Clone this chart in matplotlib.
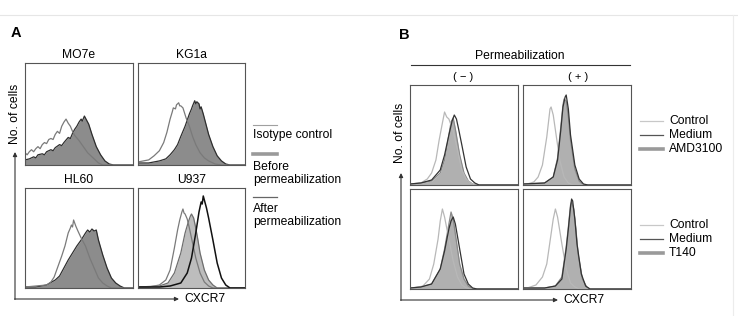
import matplotlib
matplotlib.use("Agg")
import matplotlib.pyplot as plt

plt.rcParams['font.family'] = ['Liberation Sans', 'DejaVu Sans']

W, H = 738, 316

# histogram curves: (channel, % of box height)
# panel A
mo7e_iso = [(0,12),(2,10),(4,13),(6,15),(8,13),(10,16),(12,18),(14,16),(16,20),(18,22),(20,21),(22,25),(24,26),(26,25),(28,30),(30,33),(32,31),(34,38),(36,42),(38,45),(40,41),(42,38),(44,33),(46,29),(50,24),(54,18),(58,12),(62,8),(65,5),(68,2),(72,0),(100,0)]
mo7e_fill = [(0,5),(4,6),(8,8),(10,7),(12,10),(16,11),(18,10),(20,13),(24,15),(26,14),(28,17),(32,20),(34,19),(36,22),(40,27),(42,26),(44,31),(46,35),(48,38),(50,42),(52,45),(53,43),(55,48),(57,44),(59,40),(62,30),(66,18),(70,10),(74,4),(78,1),(82,0),(100,0)]
kg1a_iso = [(0,3),(5,4),(10,5),(15,9),(20,14),(24,22),(27,32),(30,45),(32,52),(33,56),(35,55),(36,59),(38,61),(39,58),(40,58),(42,56),(45,46),(48,38),(51,28),(54,20),(58,12),(62,7),(66,4),(72,1),(78,0),(100,0)]
kg1a_fill = [(0,2),(10,2),(20,4),(26,6),(30,10),(34,15),(37,20),(40,28),(44,38),(48,50),(50,55),(51,58),(53,63),(54,60),(55,62),(57,60),(58,55),(59,57),(61,50),(63,42),(66,30),(70,18),(74,9),(78,4),(82,1),(86,0),(100,0)]
hl60_iso = [(0,1),(10,2),(20,3),(24,6),(27,11),(30,20),(34,32),(37,42),(40,55),(42,60),(43,63),(44,61),(45,68),(47,62),(49,57),(52,50),(56,42),(60,30),(64,20),(68,10),(72,5),(76,2),(80,0),(100,0)]
hl60_fill = [(0,1),(10,1),(20,3),(28,8),(32,12),(36,20),(40,28),(44,35),(48,42),(52,48),(56,55),(58,58),(60,56),(62,59),(64,57),(66,58),(68,48),(72,33),(76,20),(80,10),(84,5),(88,2),(92,0),(100,0)]
u937_iso = [(0,1),(10,1),(20,3),(26,8),(30,18),(34,40),(37,58),(39,68),(41,76),(42,79),(43,75),(44,74),(46,69),(48,60),(50,50),(54,30),(58,15),(62,6),(66,2),(70,0),(100,0)]
u937_before = [(0,1),(20,2),(28,5),(34,15),(40,35),(44,55),(47,66),(49,72),(50,74),(52,70),(54,60),(56,48),(58,35),(62,18),(66,8),(70,3),(74,0),(100,0)]
u937_after = [(0,1),(20,1),(30,2),(40,5),(46,15),(50,30),(54,55),(57,76),(59,86),(60,84),(61,92),(62,88),(64,80),(66,70),(70,48),(74,25),(78,10),(82,3),(86,0),(100,0)]

# panel B
neg_amd_ctrl = [(0,1),(6,1),(10,2),(16,6),(20,12),(24,25),(27,45),(30,62),(32,73),(34,68),(36,66),(38,60),(40,54),(44,35),(48,15),(52,6),(56,2),(60,0),(100,0)]
neg_amd_med = [(0,1),(10,2),(20,5),(28,15),(32,30),(36,50),(39,64),(41,70),(43,66),(45,56),(48,40),(52,18),(56,6),(60,2),(64,0),(100,0)]
neg_amd_drug = [(0,1),(10,2),(20,4),(28,12),(32,25),(36,50),(38,63),(40,67),(42,56),(46,30),(50,12),(54,4),(58,1),(62,0),(100,0)]
pos_amd_ctrl = [(0,1),(4,1),(10,3),(14,8),(18,20),(22,48),(25,76),(26,78),(28,70),(30,55),(34,25),(38,8),(42,2),(46,0),(100,0)]
pos_amd_med = [(0,1),(20,2),(28,8),(32,25),(35,55),(37,78),(39,88),(40,90),(42,76),(44,50),(48,20),(52,6),(56,1),(60,0),(100,0)]
pos_amd_drug = [(0,1),(20,2),(28,8),(32,27),(35,58),(37,80),(38,86),(40,84),(42,68),(44,45),(48,16),(52,4),(56,0),(100,0)]
neg_t140_ctrl = [(0,1),(4,1),(12,3),(18,10),(22,25),(26,50),(28,68),(30,80),(32,72),(36,50),(40,28),(44,12),(48,4),(52,1),(56,0),(100,0)]
neg_t140_med = [(0,1),(10,2),(20,5),(28,20),(32,38),(36,60),(38,68),(40,72),(42,65),(46,40),(50,15),(54,5),(58,1),(62,0),(100,0)]
neg_t140_drug = [(0,1),(10,2),(20,5),(28,20),(32,40),(36,65),(38,77),(40,70),(42,55),(46,25),(50,10),(54,3),(58,0),(100,0)]
pos_t140_ctrl = [(0,1),(4,1),(12,4),(18,12),(22,25),(26,55),(28,70),(30,80),(32,72),(36,45),(40,20),(44,6),(48,2),(52,0),(100,0)]
pos_t140_med = [(0,1),(20,1),(30,3),(36,10),(40,40),(42,60),(44,82),(45,90),(46,88),(48,70),(50,45),(54,15),(58,3),(62,0),(100,0)]
pos_t140_drug = [(0,1),(20,1),(30,3),(36,12),(40,42),(42,62),(44,84),(45,87),(47,80),(49,60),(51,35),(55,10),(59,2),(62,0),(100,0)]

cell_lines = ['MO7e', 'KG1a', 'HL60', 'U937']
legend_a = ['Isotype control', 'Before\npermeabilization', 'After\npermeabilization']
perm_labels = ['( \u2212 )', '( + )']


def px_axes(fig, x0, y0, x1, y1):
    ax = fig.add_axes([x0 / W, 1 - y1 / H, (x1 - x0) / W, (y1 - y0) / H])
    ax.set_xlim(0, 100)
    ax.set_ylim(0, 100)
    ax.set_xticks([])
    ax.set_yticks([])
    for s in ax.spines.values():
        s.set_color('#555555')
        s.set_linewidth(0.8)
    return ax


def xy(curve):
    return [p[0] for p in curve], [p[1] for p in curve]


def filled(ax, curve, fc, ec, lw=0.9):
    x, y = xy(curve)
    ax.fill_between(x, y, 0, color=fc, lw=0)
    ax.plot(x, y, color=ec, lw=lw)


def line(ax, curve, c, lw=0.9):
    x, y = xy(curve)
    ax.plot(x, y, color=c, lw=lw)


fig = plt.figure(figsize=(W / 100, H / 100), dpi=100)
ov = fig.add_axes([0, 0, 1, 1])
ov.set_xlim(0, W)
ov.set_ylim(H, 0)
ov.axis('off')

# faint frame of the original image
ov.plot([0, W], [15, 15], color='#e6e6e6', lw=0.8)
ov.plot([733, 733], [15, H], color='#ececec', lw=0.8)

# ---- panel A ----
ov.text(11, 33, 'A', fontsize=10.5, fontweight='bold', va='center')
boxes_a = [(25, 63, 133, 165), (138, 63, 245, 165), (25, 188, 133, 288), (138, 188, 245, 288)]
for (x0, y0, x1, y1), name in zip(boxes_a, cell_lines):
    ov.text((x0 + x1) / 2, y0 - 8, name, fontsize=8.7, ha='center', va='center')

ax = px_axes(fig, *boxes_a[0])
filled(ax, mo7e_fill, '#8c8c8c', '#2e2e2e')
line(ax, mo7e_iso, '#7a7a7a')
ax = px_axes(fig, *boxes_a[1])
filled(ax, kg1a_fill, '#8c8c8c', '#2e2e2e')
line(ax, kg1a_iso, '#7a7a7a')
ax = px_axes(fig, *boxes_a[2])
filled(ax, hl60_fill, '#8c8c8c', '#2e2e2e')
line(ax, hl60_iso, '#7a7a7a')
ax = px_axes(fig, *boxes_a[3])
filled(ax, u937_before, '#bdbdbd', '#6e6e6e')
line(ax, u937_iso, '#7a7a7a')
line(ax, u937_after, '#111111', 1.1)

arrow = dict(arrowstyle='-|>', lw=0.8, color='#333333', mutation_scale=6, shrinkA=0, shrinkB=0)
ov.annotate('', xy=(15, 152), xytext=(15, 299.5), arrowprops=arrow)
ov.annotate('', xy=(179, 299), xytext=(14.6, 299), arrowprops=arrow)
ov.text(15, 114, 'No. of cells', rotation=90, fontsize=8.7, ha='center', va='center')
ov.text(184, 299, 'CXCR7', fontsize=8.7, ha='left', va='center')

ov.plot([253, 277], [125, 125], color='#a0a0a0', lw=0.8)
ov.text(253, 135, legend_a[0], fontsize=8.7, va='center')
ov.plot([253, 277], [154, 154], color='#9a9a9a', lw=2.6)
ov.text(253, 173.5, legend_a[1], fontsize=8.7, va='center', linespacing=1.2)
ov.plot([253, 277], [197, 197], color='#666666', lw=0.9)
ov.text(253, 215.5, legend_a[2], fontsize=8.7, va='center', linespacing=1.2)

# ---- panel B ----
ov.text(399, 35, 'B', fontsize=10.5, fontweight='bold', va='center')
ov.text(520, 56, 'Permeabilization', fontsize=8.7, ha='center', va='center')
ov.plot([411, 630], [65, 65], color='#333333', lw=0.8)
ov.text(463, 77, perm_labels[0], fontsize=8, ha='center', va='center')
ov.text(578, 77, perm_labels[1], fontsize=8, ha='center', va='center')

boxes_b = [(410, 85, 518, 185), (523, 85, 631, 185), (410, 189, 518, 289), (523, 189, 631, 289)]
panel_b = [(neg_amd_ctrl, neg_amd_med, neg_amd_drug), (pos_amd_ctrl, pos_amd_med, pos_amd_drug),
           (neg_t140_ctrl, neg_t140_med, neg_t140_drug), (pos_t140_ctrl, pos_t140_med, pos_t140_drug)]
for box, (ctrl, med, drug) in zip(boxes_b, panel_b):
    ax = px_axes(fig, *box)
    filled(ax, drug, '#b0b0b0', '#8a8a8a')
    line(ax, ctrl, '#b8b8b8')
    line(ax, med, '#333333')

ov.annotate('', xy=(401, 173), xytext=(401, 300.5), arrowprops=arrow)
ov.annotate('', xy=(558, 300), xytext=(400.6, 300), arrowprops=arrow)
ov.text(400, 133, 'No. of cells', rotation=90, fontsize=8.7, ha='center', va='center')
ov.text(563, 300, 'CXCR7', fontsize=8.7, ha='left', va='center')

for y0, drug in [(121, 'AMD3100'), (225, 'T140')]:
    ov.plot([640, 663], [y0, y0], color='#c8c8c8', lw=0.9)
    ov.plot([640, 663], [y0 + 14, y0 + 14], color='#555555', lw=0.9)
    ov.plot([640, 663], [y0 + 28, y0 + 28], color='#9a9a9a', lw=2.6)
    ov.text(669, y0, 'Control', fontsize=8.7, va='center')
    ov.text(669, y0 + 14, 'Medium', fontsize=8.7, va='center')
    ov.text(669, y0 + 28, drug, fontsize=8.7, va='center')

fig.savefig('out.png', dpi=100)
